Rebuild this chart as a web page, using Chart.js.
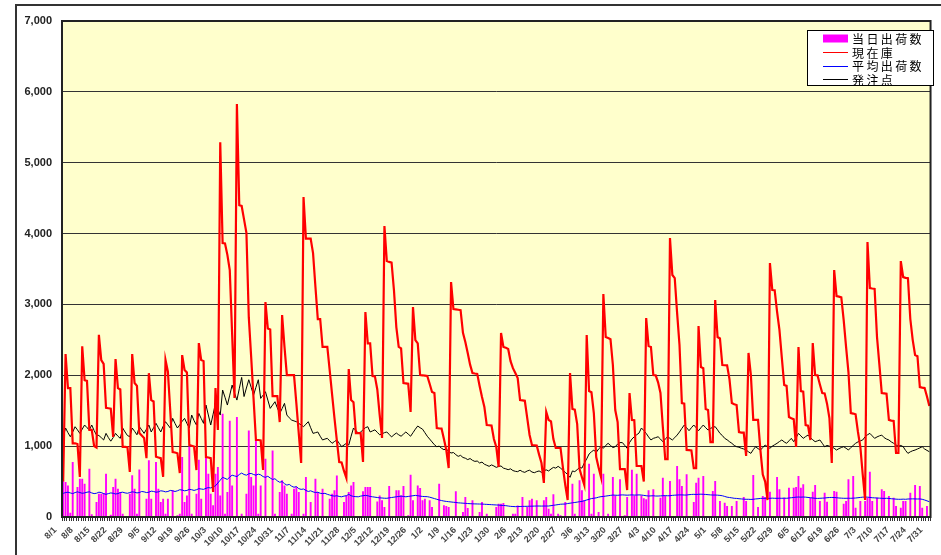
<!DOCTYPE html>
<html>
<head>
<meta charset="utf-8">
<script src="https://cdn.jsdelivr.net/npm/chart.js@4.4.1/dist/chart.umd.min.js"></script>
<style>
  html, body { margin: 0; padding: 0; background: #fff; }
  canvas { display: block; }
</style>
</head>
<body>
<canvas id="chart" width="941" height="555"></canvas>
<script>
// 8/1 - 7/31, one category per day
var monthLens = [[8,31],[9,30],[10,31],[11,30],[12,31],[1,31],[2,28],[3,31],[4,30],[5,31],[6,30],[7,31]];
var days = [];
monthLens.forEach(function(m){ for (var d = 1; d <= m[1]; d++) days.push(m[0] + "/" + d); });

var seriesNames = ["当日出荷数", "現在庫", "平均出荷数", "発注点"];

// 当日出荷数
var shipments = [
  517,494,446,60,775,0,423,540,540,470,
  0,681,40,0,211,329,329,338,611,0,
  30,423,540,400,353,47,0,0,329,588,
  400,47,672,0,0,258,800,258,0,775,
  400,211,258,47,258,0,376,0,24,47,
  846,211,305,996,47,0,329,808,258,0,
  870,611,329,165,611,705,305,1457,47,352,
  1358,446,0,1410,0,47,0,329,1222,564,
  446,1081,47,446,0,823,0,0,940,47,
  0,352,517,446,329,0,47,400,423,352,
  0,47,564,0,211,0,540,352,0,400,
  0,0,258,329,376,587,0,0,211,305,
  352,446,494,0,0,0,362,423,423,423,
  0,0,220,305,235,141,0,437,0,0,
  376,376,305,437,0,24,597,235,0,446,
  409,235,258,0,235,141,0,0,470,0,
  165,155,141,0,0,362,0,0,71,282,
  127,0,235,0,0,71,211,0,47,0,
  0,0,141,188,188,197,0,0,0,47,
  47,164,0,282,0,141,235,258,0,235,
  0,0,235,282,118,47,320,0,47,24,
  0,211,0,0,470,47,0,517,376,235,
  0,752,47,611,0,70,0,611,0,47,
  0,564,305,0,531,0,24,282,0,667,
  305,611,0,305,263,249,376,0,390,0,
  0,273,555,296,0,508,0,0,719,531,
  437,0,602,0,0,212,484,555,0,578,
  0,14,0,367,508,0,226,0,202,155,
  0,155,0,226,0,0,282,226,0,0,
  592,0,141,0,296,282,0,357,0,0,
  564,390,0,273,0,414,0,414,423,578,
  414,461,0,0,273,357,451,0,226,0,
  343,216,0,0,367,357,0,0,188,226,
  531,0,578,132,0,226,0,226,273,639,
  226,0,273,0,390,367,0,296,0,273,
  155,0,132,226,226,0,343,0,451,0,
  437,132,0,155,0
];

// 現在庫
var stock = [
  500,2300,1820,1820,1040,1040,1030,565,2410,1930,
  1920,1230,1230,1000,980,2570,2215,2160,1540,1535,
  1530,1130,2230,1820,1800,990,990,985,635,2300,
  1890,1850,1185,1150,1115,830,2030,1650,1630,850,
  840,830,565,2215,2050,1500,917,910,900,620,
  2285,2075,2040,1015,1005,995,663,2455,2215,2200,
  847,840,830,353,1820,1228,5290,3866,3860,3700,
  3485,2580,1680,5827,4400,4390,4200,4010,2820,2258,
  1670,1087,1087,1080,663,3034,2660,2645,1707,1707,
  1707,1340,2850,2400,2003,2003,2003,2003,1600,1180,
  762,4515,3930,3930,3930,3725,3250,2794,2794,2400,
  2400,2400,2070,1730,1397,1080,776,770,650,550,
  2088,1650,1620,1185,1185,1185,776,2893,2450,2450,
  1990,1985,1800,1440,1115,4106,3612,3600,3590,3203,
  2680,2400,2380,1890,1885,1880,1482,2963,2497,2450,
  2003,2000,1995,1990,1880,1764,1750,1256,1252,1250,
  1100,945,691,3316,2935,2930,2925,2920,2600,2470,
  2315,2150,2032,2025,2020,1850,1693,1552,1298,1295,
  1290,1100,988,705,2596,2400,2390,2370,2200,2100,
  2032,1960,1650,1645,1640,1400,1157,1016,1013,1010,
  880,762,480,1482,1370,1350,1100,974,974,974,
  700,450,240,2032,1524,1515,1312,677,560,450,
  2568,1778,1760,1467,847,700,565,3147,2540,2525,
  2510,2145,1510,1340,677,677,677,381,1750,1370,
  1365,720,720,720,500,2808,2413,2400,2003,2000,
  1900,1750,1270,818,818,3937,3415,3370,2878,2427,
  1608,1600,945,943,940,690,690,2695,2116,2100,
  1524,1510,1058,1058,3062,2540,2520,2145,2142,2140,
  1947,1608,1590,1580,1199,1190,1190,861,2315,2003,
  1370,1370,1370,945,600,500,240,3584,3203,3200,
  2900,2640,2250,1862,1850,1411,1395,1380,988,2400,
  1778,1770,1298,1290,1087,2455,2003,2000,1870,1750,
  1745,1600,1397,762,3485,3118,3110,3100,2780,2400,
  2046,1467,1460,1450,1200,988,600,240,3880,3231,
  3225,3220,2540,2150,1750,1745,1740,1370,1360,1355,
  903,903,3612,3386,3375,3370,2794,2500,2286,2270,
  1834,1825,1820,1700,1566
];

// 平均出荷数
var avgShipments = [
  334,345,350,340,330,345,355,345,335,340,
  350,355,340,330,335,350,345,330,320,330,
  340,335,325,330,345,350,340,335,345,355,
  350,340,345,360,355,345,350,365,360,350,
  355,370,365,355,360,375,370,360,370,385,
  380,370,375,390,385,375,385,400,395,390,
  405,415,410,425,440,480,520,560,545,530,
  565,590,580,570,600,620,600,590,610,615,
  600,590,605,595,570,560,575,550,530,540,
  510,490,500,470,450,460,435,420,430,400,
  390,395,375,360,370,355,345,350,335,330,
  334,320,310,300,295,300,290,285,295,300,
  320,300,290,287,285,295,300,305,300,290,
  285,280,275,270,268,265,264,270,275,280,
  285,290,295,290,285,290,295,300,305,300,
  295,290,288,287,280,270,260,250,240,232,
  225,220,216,212,208,205,200,198,195,193,
  190,188,186,185,184,183,183,180,178,176,
  174,172,170,168,165,163,160,155,150,148,
  146,147,148,150,150,151,152,153,154,155,
  155,154,155,155,155,160,165,170,175,180,
  182,183,190,195,200,205,210,216,220,230,
  240,250,260,265,270,280,287,290,295,300,
  305,310,308,306,310,312,310,308,310,312,
  310,310,312,310,305,300,296,298,300,296,
  296,298,300,302,300,300,305,308,310,312,
  312,310,310,315,318,320,318,320,322,320,
  318,315,312,310,310,308,305,300,290,280,
  275,270,264,262,258,255,252,250,250,248,
  250,255,258,262,264,264,262,264,266,264,
  264,265,264,266,264,268,272,276,280,282,
  280,282,280,276,272,268,264,262,264,266,
  268,272,275,276,275,272,268,266,264,264,
  265,264,266,268,272,276,280,282,280,276,
  272,270,268,266,264,262,264,262,258,255,
  252,250,250,252,250,254,255,256,255,254,
  255,250,240,228,216
];

// 発注点
var reorderPoint = [
  1133,1256,1190,1133,1200,1274,1230,1180,1240,1298,
  1260,1230,1298,1220,1156,1150,1120,1087,1180,1120,
  1070,1120,1180,1140,1110,1256,1200,1150,1133,1256,
  1210,1160,1274,1230,1180,1240,1298,1200,1260,1322,
  1260,1200,1280,1345,1300,1256,1392,1320,1256,1300,
  1350,1392,1320,1256,1439,1360,1298,1462,1390,1322,
  1580,1440,1298,1450,1604,1520,1439,1792,1690,1580,
  1720,1862,1750,1650,1810,1970,1700,1820,1937,1830,
  1720,1830,1937,1674,1720,1768,1650,1533,1580,1627,
  1540,1462,1530,1604,1439,1400,1368,1356,1345,1320,
  1300,1274,1310,1345,1260,1180,1190,1200,1140,1087,
  1100,1110,1075,1040,1065,1087,1040,993,1015,1040,
  1016,1140,1256,1220,1185,1200,1230,1260,1274,1200,
  1215,1230,1195,1160,1175,1190,1200,1165,1130,1160,
  1185,1160,1140,1170,1200,1170,1140,1190,1240,1284,
  1260,1240,1190,1140,1100,1060,1020,992,1000,970,
  950,960,925,903,910,880,856,870,840,830,
  810,825,800,785,790,762,775,745,730,715,
  735,720,700,715,720,690,680,668,680,655,
  645,640,660,640,630,650,660,635,625,640,
  650,630,655,665,650,677,700,690,715,690,
  660,630,600,560,650,640,668,700,690,762,
  820,889,920,945,910,960,992,970,1010,1040,
  1010,980,992,1030,1050,1050,1010,970,1050,1100,
  1133,1160,1185,1256,1220,1180,1130,1087,1110,1120,
  1133,1100,1063,1100,1133,1110,1087,1120,1156,1200,
  1251,1298,1260,1218,1260,1298,1260,1218,1260,1298,
  1260,1227,1250,1265,1275,1230,1180,1150,1110,1090,
  1063,1040,1010,992,985,970,960,945,920,898,
  950,992,965,945,980,1016,990,970,1000,1020,
  1040,1065,1087,1060,1040,1075,1110,1063,1120,1180,
  1145,1110,1135,1156,1120,1090,1063,1075,1087,1040,
  992,1010,1000,992,970,945,965,980,992,970,
  945,980,1010,1040,1060,1075,1087,1133,1160,1180,
  1145,1110,1130,1145,1156,1120,1100,1087,1060,1040,
  1016,1000,1010,992,940,898,920,935,945,960,
  975,992,960,940,921
];

var seriesColors = ["#FF00FF", "#FF0000", "#0000FF", "#000000"];

// frame, yellow plot area, outer border and the legend box
var frame = {
    id: "frame",
    beforeDraw: function(chart){
        var c = chart.ctx, a = chart.chartArea;
        c.save();
        c.fillStyle = "#FFFFFF";
        c.fillRect(0, 0, chart.width, chart.height);
        c.strokeStyle = "#333333";
        c.lineWidth = 2;
        c.beginPath();
        c.moveTo(16, chart.height);
        c.lineTo(16, 5);
        c.lineTo(chart.width, 5);
        c.stroke();
        c.fillStyle = "#FFFFCC";
        c.fillRect(a.left, a.top, a.right - a.left, a.bottom - a.top);
        c.restore();
    },
    afterDraw: function(chart){
        var c = chart.ctx, a = chart.chartArea;
        c.save();
        c.strokeStyle = "#222222";
        c.lineWidth = 2;
        c.strokeRect(a.left, a.top, a.right - a.left, a.bottom - a.top);

        var bx = 807, by = 30, bw = 127, bh = 56;
        c.fillStyle = "#FFFFFF";
        c.fillRect(bx, by, bw, bh);
        c.lineWidth = 1;
        c.strokeStyle = "#000000";
        c.strokeRect(bx + 0.5, by + 0.5, bw - 1, bh - 1);
        var rows = [38.5, 52, 65.5, 79];
        c.font = '12px "Noto Sans CJK JP"';
        c.letterSpacing = "2.4px";
        c.textBaseline = "middle";
        c.textAlign = "left";
        chart.data.datasets.forEach(function(ds, i){
            var y = rows[i];
            if (i === 0) {
                c.fillStyle = ds.backgroundColor;
                c.fillRect(823, y - 4, 25, 8);
            } else {
                c.strokeStyle = ds.borderColor;
                c.lineWidth = 1;
                c.beginPath();
                c.moveTo(823, Math.round(y) + 0.5);
                c.lineTo(848, Math.round(y) + 0.5);
                c.stroke();
            }
            c.fillStyle = "#000000";
            c.fillText(ds.label, 852, y + 1);
        });
        c.restore();
    }
};

var ctx = document.getElementById("chart");

var myChart = new Chart(ctx, {
    type: "bar",
    data: {
        labels: days,
        datasets: [
            { type: "bar", label: seriesNames[0], data: shipments, backgroundColor: seriesColors[0],
              categoryPercentage: 1, barPercentage: 0.8, order: 4 },
            { type: "line", label: seriesNames[1], data: stock, borderColor: seriesColors[1],
              borderWidth: 2.2, pointRadius: 0, tension: 0, order: 1 },
            { type: "line", label: seriesNames[2], data: avgShipments, borderColor: seriesColors[2],
              borderWidth: 1, pointRadius: 0, tension: 0, order: 2 },
            { type: "line", label: seriesNames[3], data: reorderPoint, borderColor: seriesColors[3],
              borderWidth: 1, pointRadius: 0, tension: 0, order: 3 }
        ]
    },
    options: {
        responsive: false,
        animation: false,
        devicePixelRatio: 1,
        layout: { padding: { top: 21, right: 8, left: 0, bottom: 0 } },
        plugins: {
            legend: { display: false },
            tooltip: { enabled: false }
        },
        scales: {
            x: {
                grid: { drawOnChartArea: false, drawTicks: true, tickLength: 4, color: "#333333" },
                border: { display: false },
                ticks: {
                    autoSkip: false,
                    maxRotation: 45,
                    minRotation: 45,
                    padding: 4,
                    labelOffset: -8,
                    color: "#444444",
                    font: { family: "'Liberation Sans', Arial, sans-serif", size: 9, weight: "bold" },
                    callback: function(v, i){ return i % 7 === 0 ? days[i] : ""; }
                },
                afterFit: function(s){ s.height = 38; }
            },
            y: {
                min: 0,
                max: 7000,
                grid: { color: "#333333", drawTicks: false },
                border: { display: false },
                ticks: {
                    stepSize: 1000,
                    padding: 10,
                    color: "#222222",
                    font: { family: "'Liberation Sans', Arial, sans-serif", size: 11, weight: "bold" },
                    callback: function(v){ return v.toLocaleString("en-US"); }
                },
                afterFit: function(s){ s.width = 62; }
            }
        }
    },
    plugins: [frame]
});
</script>
</body>
</html>
